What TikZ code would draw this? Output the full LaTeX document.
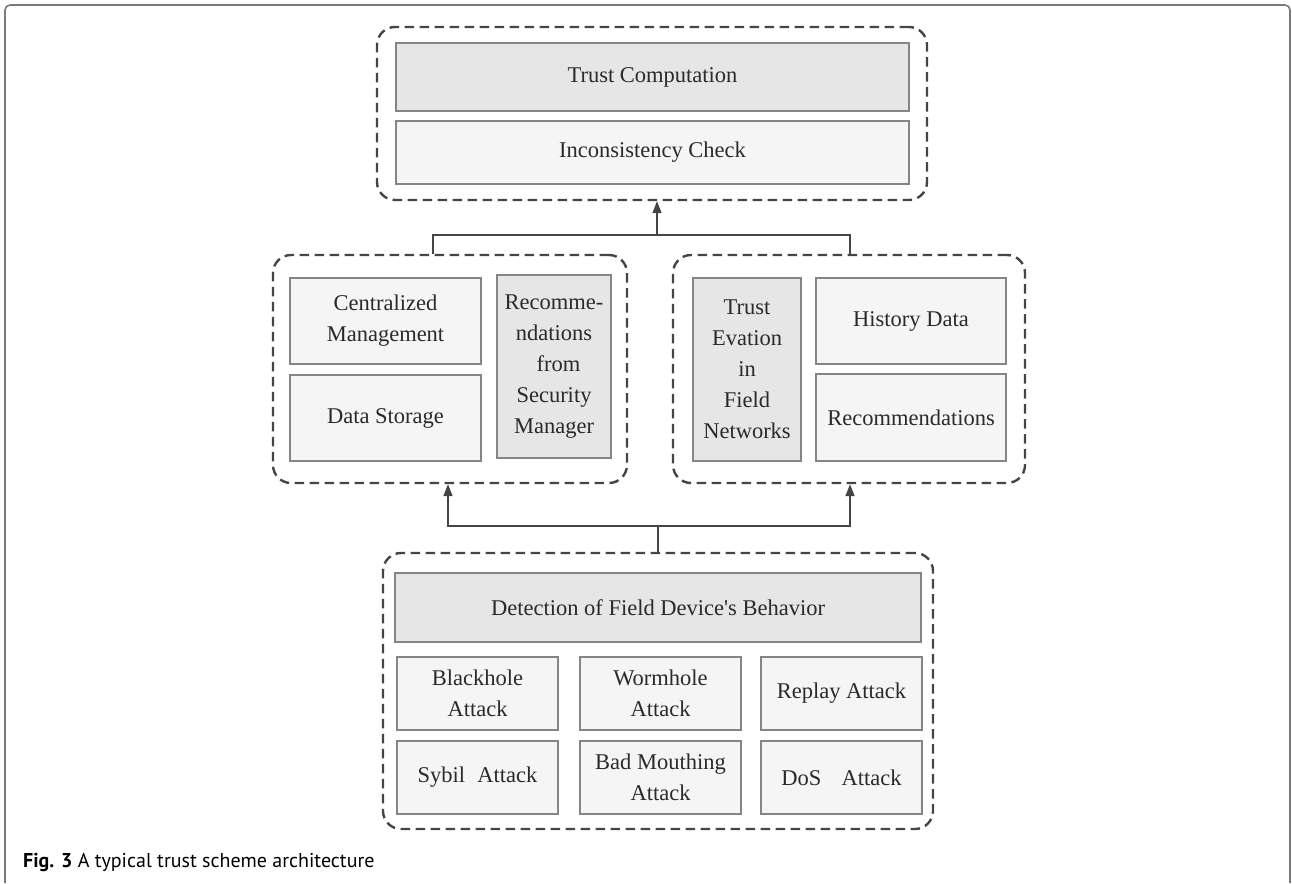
\documentclass[tikz,border=0pt]{standalone}
\usepackage{fontspec}
\setmainfont{Liberation Serif}
\newfontfamily\capfont{PT Sans}
\usetikzlibrary{arrows.meta}
\definecolor{boxline}{HTML}{858585}
\definecolor{darkfill}{HTML}{E6E6E6}
\definecolor{lightfill}{HTML}{F5F5F5}
\definecolor{dashline}{HTML}{454545}
\definecolor{txt}{HTML}{2A2A2A}
\definecolor{framec}{HTML}{7A7A7A}
\tikzset{
  group/.style={draw=dashline, line width=2.4pt, dash pattern=on 9.5pt off 5.5pt,
    rounded corners=18pt, inner sep=0pt},
  cell/.style={draw=boxline, line width=1.4pt, inner sep=0pt, align=center,
    text=txt, font=\fontsize{22.5}{31}\selectfont},
  darkcell/.style={cell, fill=darkfill},
  lightcell/.style={cell, fill=lightfill},
  link/.style={draw=dashline, line width=1.6pt},
  arr/.style={link, -{Triangle[length=12pt,width=9pt]}},
}
\newcommand{\cellat}[6]{%
  \node[#1, minimum width=#4pt, minimum height=#5pt] (#2) at (#3) {#6};}
\begin{document}
\begin{tikzpicture}[x=1pt,y=-1pt]
\useasboundingbox (0,0) rectangle (1292,883);
% page frame
\draw[framec, line width=1.6pt, rounded corners=5pt] (5,883) -- (5,5) -- (1290,5) -- (1290,883);

% dashed groups
\node[group, minimum width=550pt, minimum height=173pt] (grp1) at (652,113.5) {};
\node[group, minimum width=354pt, minimum height=228pt] (grp2) at (450,369) {};
\node[group, minimum width=352pt, minimum height=228pt] (grp3) at (849,369) {};
\node[group, minimum width=550pt, minimum height=276pt] (grp4) at (658,691) {};

% top group
\cellat{darkcell}{tc}{652.5,77}{513}{68}{Trust Computation}
\cellat{lightcell}{ic}{652.5,152.5}{513}{63}{Inconsistency Check}

% left middle group
\cellat{lightcell}{cm}{385.5,321}{191}{86}{Centralized\\Management}
\cellat{lightcell}{ds}{385.5,418}{191}{86}{Data Storage}
\cellat{darkcell}{rsm}{554,366.5}{114}{183}{Recomme-\\ndations\\\hspace*{0.4em}from\\Security\\Manager}

% right middle group
\cellat{darkcell}{te}{747,369.5}{108}{183}{Trust\\Evation\\in\\Field\\Networks}
\cellat{lightcell}{hd}{911,321}{190}{86}{History Data}
\cellat{lightcell}{rc}{911,417.5}{190}{87}{Recommendations}

% bottom group
\cellat{darkcell}{det}{658,607.5}{526}{69}{Detection of Field Device\textquotesingle s Behavior}
\cellat{lightcell}{bh}{477.5,693.5}{161}{73}{Blackhole\\Attack}
\cellat{lightcell}{wh}{660.5,693.5}{161}{73}{Wormhole\\Attack}
\cellat{lightcell}{rp}{841.5,693.5}{161}{73}{Replay Attack}
\cellat{lightcell}{sy}{477.5,777.5}{161}{73}{Sybil\hspace{0.55em}Attack}
\cellat{lightcell}{bm}{660.5,777.5}{161}{73}{Bad Mouthing\\Attack}
\cellat{lightcell}{dos}{841.5,777.5}{161}{73}{DoS\hspace{0.9em}Attack}

% connectors: bottom group feeds both middle groups
\coordinate (jb) at (658,526);
\draw[link] (grp4.north) -- (jb);
\draw[arr] (jb) -| ([xshift=-2pt]grp2.south);
\draw[arr] (jb) -| ([xshift=1pt]grp3.south);

% connectors: middle groups feed the top group
\coordinate (jt) at (657,235);
\draw[link] ([xshift=-17pt]grp2.north) |- (jt) -| ([xshift=1pt]grp3.north);
\draw[arr] (jt) -- ([xshift=5pt]grp1.south);

% caption
\node[anchor=base west, inner sep=0pt, text=black, font=\capfont\fontsize{20}{24}\selectfont]
  (cap) at (23,867) {\textbf{Fig. 3} A typical trust scheme architecture};
\end{tikzpicture}
\end{document}
